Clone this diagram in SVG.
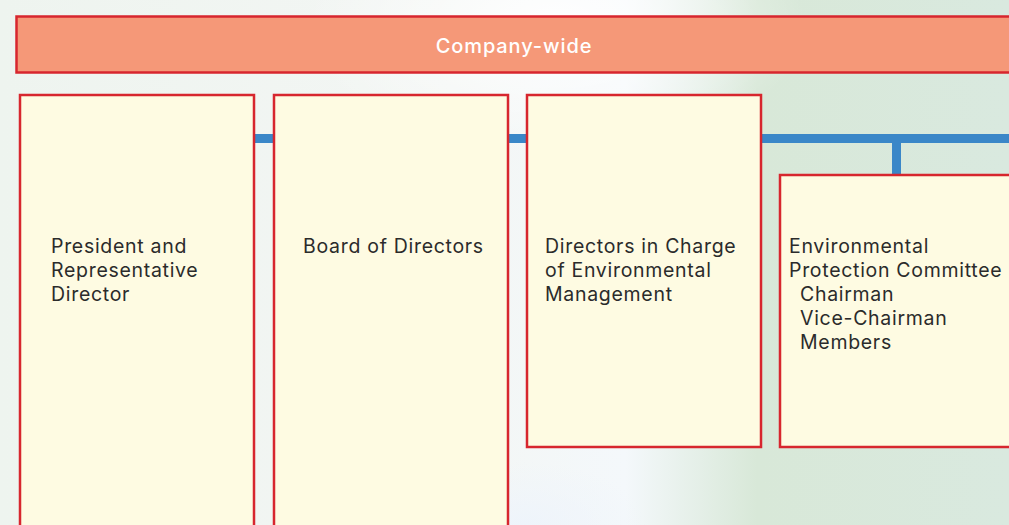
<svg xmlns="http://www.w3.org/2000/svg" width="1009" height="525" viewBox="0 0 1009 525">
<style>
.node{fill:#fefbe2;stroke:#d7262e;stroke-width:2.5}
.t{font-family:Inter,"Liberation Sans",sans-serif;font-size:19.5px;letter-spacing:0.7px;fill:#2b2b2b}
.conn{fill:#3a87c8}
</style>
<defs>
<linearGradient id="bg" x1="0" y1="0" x2="1" y2="0">
<stop offset="0" stop-color="#eef4ef"/>
<stop offset="0.45" stop-color="#f3f6f4"/>
<stop offset="0.62" stop-color="#f4f8fb"/>
<stop offset="0.75" stop-color="#d8e8d8"/>
<stop offset="1" stop-color="#d9e9df"/>
</linearGradient>
<radialGradient id="w1" cx="0.55" cy="0.05" r="0.25">
<stop offset="0" stop-color="#ffffff" stop-opacity="0.95"/>
<stop offset="1" stop-color="#ffffff" stop-opacity="0"/>
</radialGradient>
<radialGradient id="w2" cx="0.52" cy="1" r="0.12">
<stop offset="0" stop-color="#eef4fb" stop-opacity="1"/>
<stop offset="1" stop-color="#eef4fb" stop-opacity="0"/>
</radialGradient>
</defs>
<rect width="1009" height="525" fill="url(#bg)"/>
<rect width="1009" height="525" fill="url(#w1)"/>
<rect width="1009" height="525" fill="url(#w2)"/>
<g id="connectors">
<rect class="conn" x="250" y="134" width="759" height="9"/>
<rect class="conn" x="892" y="140" width="9" height="36"/>
</g>
<g id="company-wide">
<rect x="16.5" y="16.5" width="1000" height="56" fill="#f59878" stroke="#d7262e" stroke-width="2.5"/>
<text x="514" y="53" text-anchor="middle" font-family="Inter,'Liberation Sans',sans-serif" font-size="20" font-weight="500" letter-spacing="0.9" fill="#ffffff">Company-wide</text>
</g>
<g id="president">
<rect class="node" x="20" y="95" width="234" height="440"/>
<text class="t" x="51" y="253">President and</text>
<text class="t" x="51" y="277">Representative</text>
<text class="t" x="51" y="301">Director</text>
</g>
<g id="board">
<rect class="node" x="274" y="95" width="234" height="440"/>
<text class="t" x="303" y="253">Board of Directors</text>
</g>
<g id="directors-env">
<rect class="node" x="527" y="95" width="234" height="352"/>
<text class="t" x="545" y="253">Directors in Charge</text>
<text class="t" x="545" y="277">of Environmental</text>
<text class="t" x="545" y="301">Management</text>
</g>
<g id="committee">
<rect class="node" x="780" y="175" width="240" height="272"/>
<text class="t" x="789" y="253">Environmental</text>
<text class="t" x="789" y="277">Protection Committee</text>
<text class="t" x="800" y="301">Chairman</text>
<text class="t" x="800" y="325">Vice-Chairman</text>
<text class="t" x="800" y="349">Members</text>
</g>
</svg>
